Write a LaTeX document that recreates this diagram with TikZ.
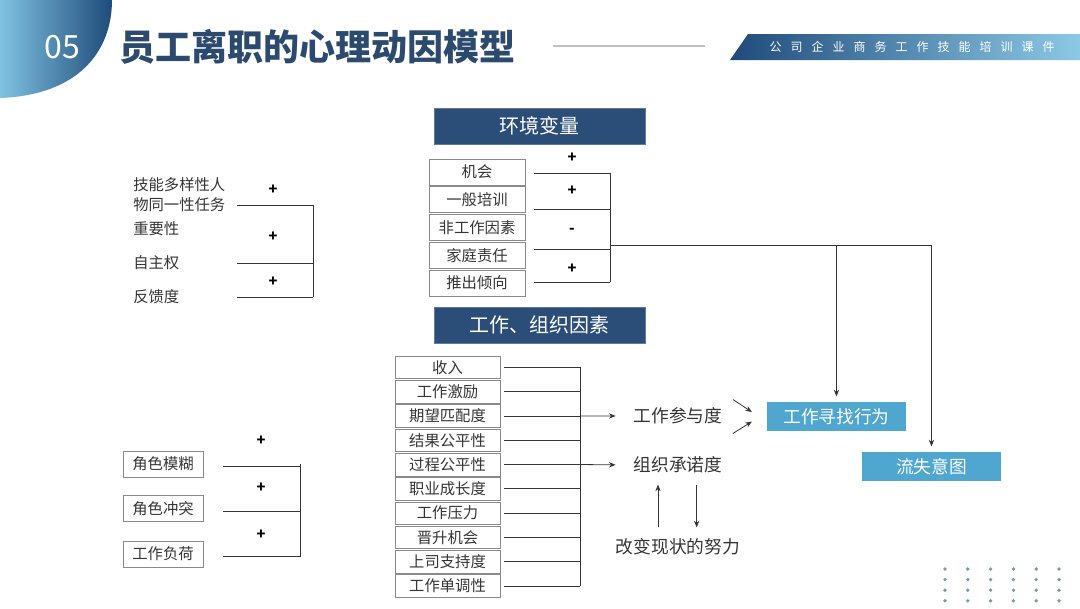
\documentclass[tikz,border=0pt]{standalone}
\usepackage{fontspec}
\setmainfont{Noto Sans CJK SC}
\newfontfamily\widecjk[LetterSpace=75]{Noto Sans CJK SC}
\usepackage{tikz}
\usetikzlibrary{arrows.meta, positioning, calc}
\definecolor{navy}{HTML}{2B4E78}
\definecolor{skyblue}{HTML}{4FA6CF}
\definecolor{deepblue}{HTML}{1F4B7A}
\definecolor{paleblue}{HTML}{8CC9E6}
\definecolor{boxgray}{HTML}{8A8A8A}
\definecolor{inkgray}{HTML}{353535}
\definecolor{dotteal}{HTML}{6F9EA6}
\definecolor{titleblue}{HTML}{2B4A6E}

\begin{document}
\begin{tikzpicture}[x=0.75pt, y=-0.75pt,
    envitem/.style={draw=boxgray, fill=white, minimum width=72pt, minimum height=19.5pt,
      inner sep=0pt, text=inkgray, font=\fontsize{11.5}{12}\selectfont},
    workitem/.style={envitem, minimum width=78.75pt, minimum height=17pt},
    roleitem/.style={envitem, minimum width=60pt},
    plain/.style={inner sep=0pt, text=inkgray, font=\fontsize{11.5}{12}\selectfont},
    hdr/.style={fill=navy, draw=navy!75, minimum width=158pt, minimum height=27pt,
      text=white, font=\fontsize{15}{16}\selectfont},
    outbox/.style={fill=skyblue, minimum width=104pt, minimum height=21.75pt,
      text=white, font=\fontsize{13.3}{14}\selectfont},
    mid/.style={text=inkgray, font=\fontsize{13.3}{14}\selectfont},
    sign/.style={font=\bfseries\fontsize{11}{12}\selectfont},
    wire/.style={draw=inkgray, line width=0.6pt},
    arr/.style={wire, -{Stealth[length=5pt, width=4pt]}}]
  \useasboundingbox (0,0) rectangle (1080,608);
  \fill[white] (0,0) rectangle (1080,608);

  % header
  \shade[left color=paleblue!80!skyblue, right color=deepblue]
    (0,0) -- (112,0) .. controls (112,50) and (80,95) .. (0,98) -- cycle;
  \node[text=white, font=\fontsize{24}{26}\selectfont] (num) at (62,47) {05};
  \node[anchor=west, text=titleblue, font=\bfseries\fontsize{27}{29}\selectfont]
    (title) at (115,47) {员工离职的心理动因模型};
  \draw[black!25, line width=0.8pt] (553,46) -- (705,46);
  \shade[left color=deepblue, right color=paleblue]
    (748,34) -- (1080,34) -- (1080,60) -- (730,60) -- cycle;
  \node[text=white, font=\widecjk\fontsize{9}{10}\selectfont] (course) at (912,47)
    {公司企业商务工作技能培训课件};
  \foreach \cx in {0,...,5}
    \foreach \cy in {0,...,3}
      \fill[dotteal] (945+22.8*\cx, 569+10.6*\cy) circle (1.4pt);

  % job characteristics
  \coordinate (lstart) at (237,0);
  \coordinate (lbar) at (313,0);
  \node[plain, anchor=west] (t1) at (133,185) {技能多样性人};
  \node[plain, anchor=west] (t2) at (133,205) {物同一性任务};
  \node[plain, anchor=west] (t3) at (133,229) {重要性};
  \node[plain, anchor=west] (t4) at (133,263) {自主权};
  \node[plain, anchor=west] (t5) at (133,297) {反馈度};
  \foreach \i in {2,4,5}
    \draw[wire] (t\i.east -| lstart) -- (t\i.east -| lbar);
  \draw[wire] (t2.east -| lbar) -- (t5.east -| lbar);
  \node[sign] at (273,190) {+};
  \node[sign] at (273,237) {+};
  \node[sign] at (273,282) {+};

  % environment
  \node[hdr] (env) at (539.5,126) {环境变量};
  \foreach \t [count=\i] in {机会,一般培训,非工作因素,家庭责任,推出倾向}
    \node[envitem] (e\i) at (477,144.1+27.8*\i) {\t};
  \coordinate (ebar) at (610,245);
  \foreach \yy in {173,209,249,282}
    \draw[wire] (534,\yy) -- (ebar |- 0,\yy);
  \draw[wire] (ebar |- 0,173) -- (ebar |- 0,282);
  \node[sign] at (572,158) {+};
  \node[sign] at (572,191) {+};
  \node[sign] at (572,231) {-};
  \node[sign] at (572,269) {+};

  % outcomes
  \node[outbox] (search) at (836.5,416.5) {工作寻找行为};
  \node[outbox] (quit) at (931.5,466.5) {流失意图};
  \coordinate (split) at (search.north |- ebar);
  \coordinate (corner) at (quit.north |- ebar);
  \draw[wire] (ebar) -- (corner);
  \draw[arr, shorten >=4pt] (split) -- (search.north);
  \draw[arr, shorten >=4pt] (corner) -- (quit.north);

  % work and organisation
  \node[hdr] (org) at (539.5,325) {工作、组织因素};
  \foreach \t [count=\i] in {收入,工作激励,期望匹配度,结果公平性,过程公平性,
      职业成长度,工作压力,晋升机会,上司支持度,工作单调性}
    \node[workitem] (w\i) at (447.5,343+24.3*\i) {\t};
  \coordinate (wbar) at (580,0);
  \foreach \i in {1,...,10}
    \draw[wire] ([xshift=3pt]w\i.east) -- (w\i.east -| wbar);
  \draw[wire] (w1.east -| wbar) -- (w10.east -| wbar);
  \node[mid] (engage) at (678,416) {工作参与度};
  \node[mid] (commit) at (678,465) {组织承诺度};
  \node[mid] (effort) at (678,547) {改变现状的努力};
  \draw[arr, shorten >=10pt] (w3.east -| wbar) -- (engage.west);
  \draw[arr, shorten >=10pt] (w5.east -| wbar) -- (commit.west);
  \draw[arr] ($(search.west)+(-34,-17)$) -- ($(search.west)+(-15,-4.5)$);
  \draw[arr] ($(search.west)+(-34,17)$) -- ($(search.west)+(-15,5)$);
  \draw[arr, shorten <=5pt, shorten >=5pt] ([xshift=-15pt]effort.north) -- ([xshift=-15pt]commit.south);
  \draw[arr, shorten <=5pt, shorten >=5pt] ([xshift=14pt]commit.south) -- ([xshift=14pt]effort.north);

  % role stress
  \node[roleitem] (r1) at (163,464) {角色模糊};
  \node[roleitem] (r2) at (163,508.5) {角色冲突};
  \node[roleitem] (r3) at (163,554) {工作负荷};
  \coordinate (rstart) at (223,0);
  \coordinate (rbar) at (300,0);
  \foreach \i in {1,2,3}
    \draw[wire] ([yshift=-2pt]r\i.east -| rstart) -- ([yshift=-2pt]r\i.east -| rbar);
  \draw[wire] (r1.east -| rbar) -- ([yshift=-2pt]r3.east -| rbar);
  \node[sign] at (261,441) {+};
  \node[sign] at (261,488) {+};
  \node[sign] at (261,535) {+};
\end{tikzpicture}
\end{document}
